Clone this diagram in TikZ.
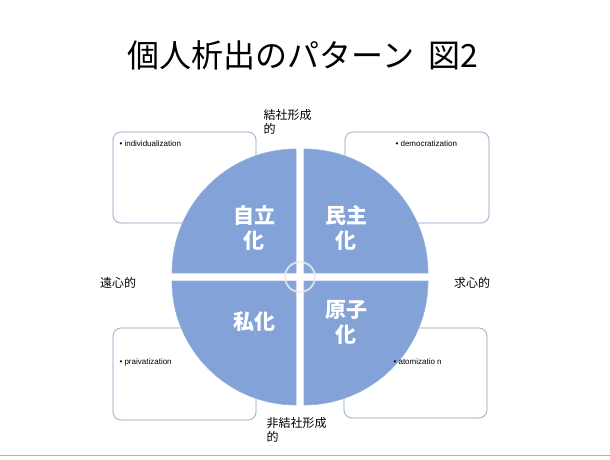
\documentclass[tikz,border=0pt]{standalone}
\usepackage{fontspec}
\setmainfont{Liberation Sans}
\newfontfamily\cjk{Noto Sans CJK JP}
\begin{document}
\begin{tikzpicture}[x=1pt,y=-1pt,
  box/.style={draw=bbord,rounded corners=8pt,line width=0.8pt},
  quad/.style={fill=qblue,draw=qblue!80!white,line width=0.6pt},
  qlab/.style={text=white,font=\cjk\fontsize{21}{25}\selectfont\bfseries,align=center},
  lab/.style={font=\cjk\fontsize{12}{14}\selectfont,align=left},
  bul/.style={font=\fontsize{8}{9}\selectfont,anchor=west}]
\definecolor{qblue}{RGB}{122,156,212}
\definecolor{bbord}{RGB}{165,182,206}
\useasboundingbox (0,0) rectangle (610,459);
\fill[white] (0,0) rectangle (610,459);
\node[font=\cjk\fontsize{32}{37}\selectfont] (title) at (303,55) {個人析出のパターン\ \ 図2};
% boxes
\draw[box] (113,132) rectangle (256,223);
\draw[box] (345,132) rectangle (489,223);
\draw[box] (113,328) rectangle (256,420);
\draw[box] (344,328) rectangle (487,418);
% quadrants
\path[quad,opacity=0.93] (296,273) -- (172,273) arc[start angle=180,end angle=270,radius=124] -- cycle;
\path[quad,opacity=0.93] (304,273) -- (304,149) arc[start angle=270,end angle=360,radius=124] -- cycle;
\path[quad,opacity=0.93] (296,281) -- (172,281) arc[start angle=180,end angle=90,radius=124] -- cycle;
\path[quad,opacity=0.93] (304,281) -- (428,281) arc[start angle=0,end angle=90,radius=124] -- cycle;
\draw[white!85!gray,line width=2pt,opacity=0.8] (300,277) circle[radius=15];
% box borders on top (faint)
\draw[box,opacity=0.5] (113,132) rectangle (256,223);
\draw[box,opacity=0.5] (345,132) rectangle (489,223);
\draw[box,opacity=0.5] (113,328) rectangle (256,420);
\draw[box,opacity=0.5] (344,328) rectangle (487,418);
% quadrant labels
\node[qlab] (q1) at (254,228) {自立\\化};
\node[qlab] (q2) at (346,228) {民主\\化};
\node[qlab] (q3) at (254,322) {私化};
\node[qlab] (q4) at (346,322) {原子\\化};
% bullets
\node[bul] (b1) at (116,144) {• individualization};
\node[bul] (b2) at (392,144) {• democratization};
\node[bul] (b3) at (116,362) {• praivatization};
\node[bul] (b4) at (390,362) {• atomizatio n};
% axis labels
\node[lab,anchor=north west] (top) at (260,106) {結社形成\\的};
\node[lab,anchor=north west] (bot) at (263,414) {非結社形成\\的};
\node[lab] (left) at (118,283) {遠心的};
\node[lab] (right) at (472,283) {求心的};
\draw[gray!60,line width=1pt] (0,455) -- (610,455);
\end{tikzpicture}
\end{document}
